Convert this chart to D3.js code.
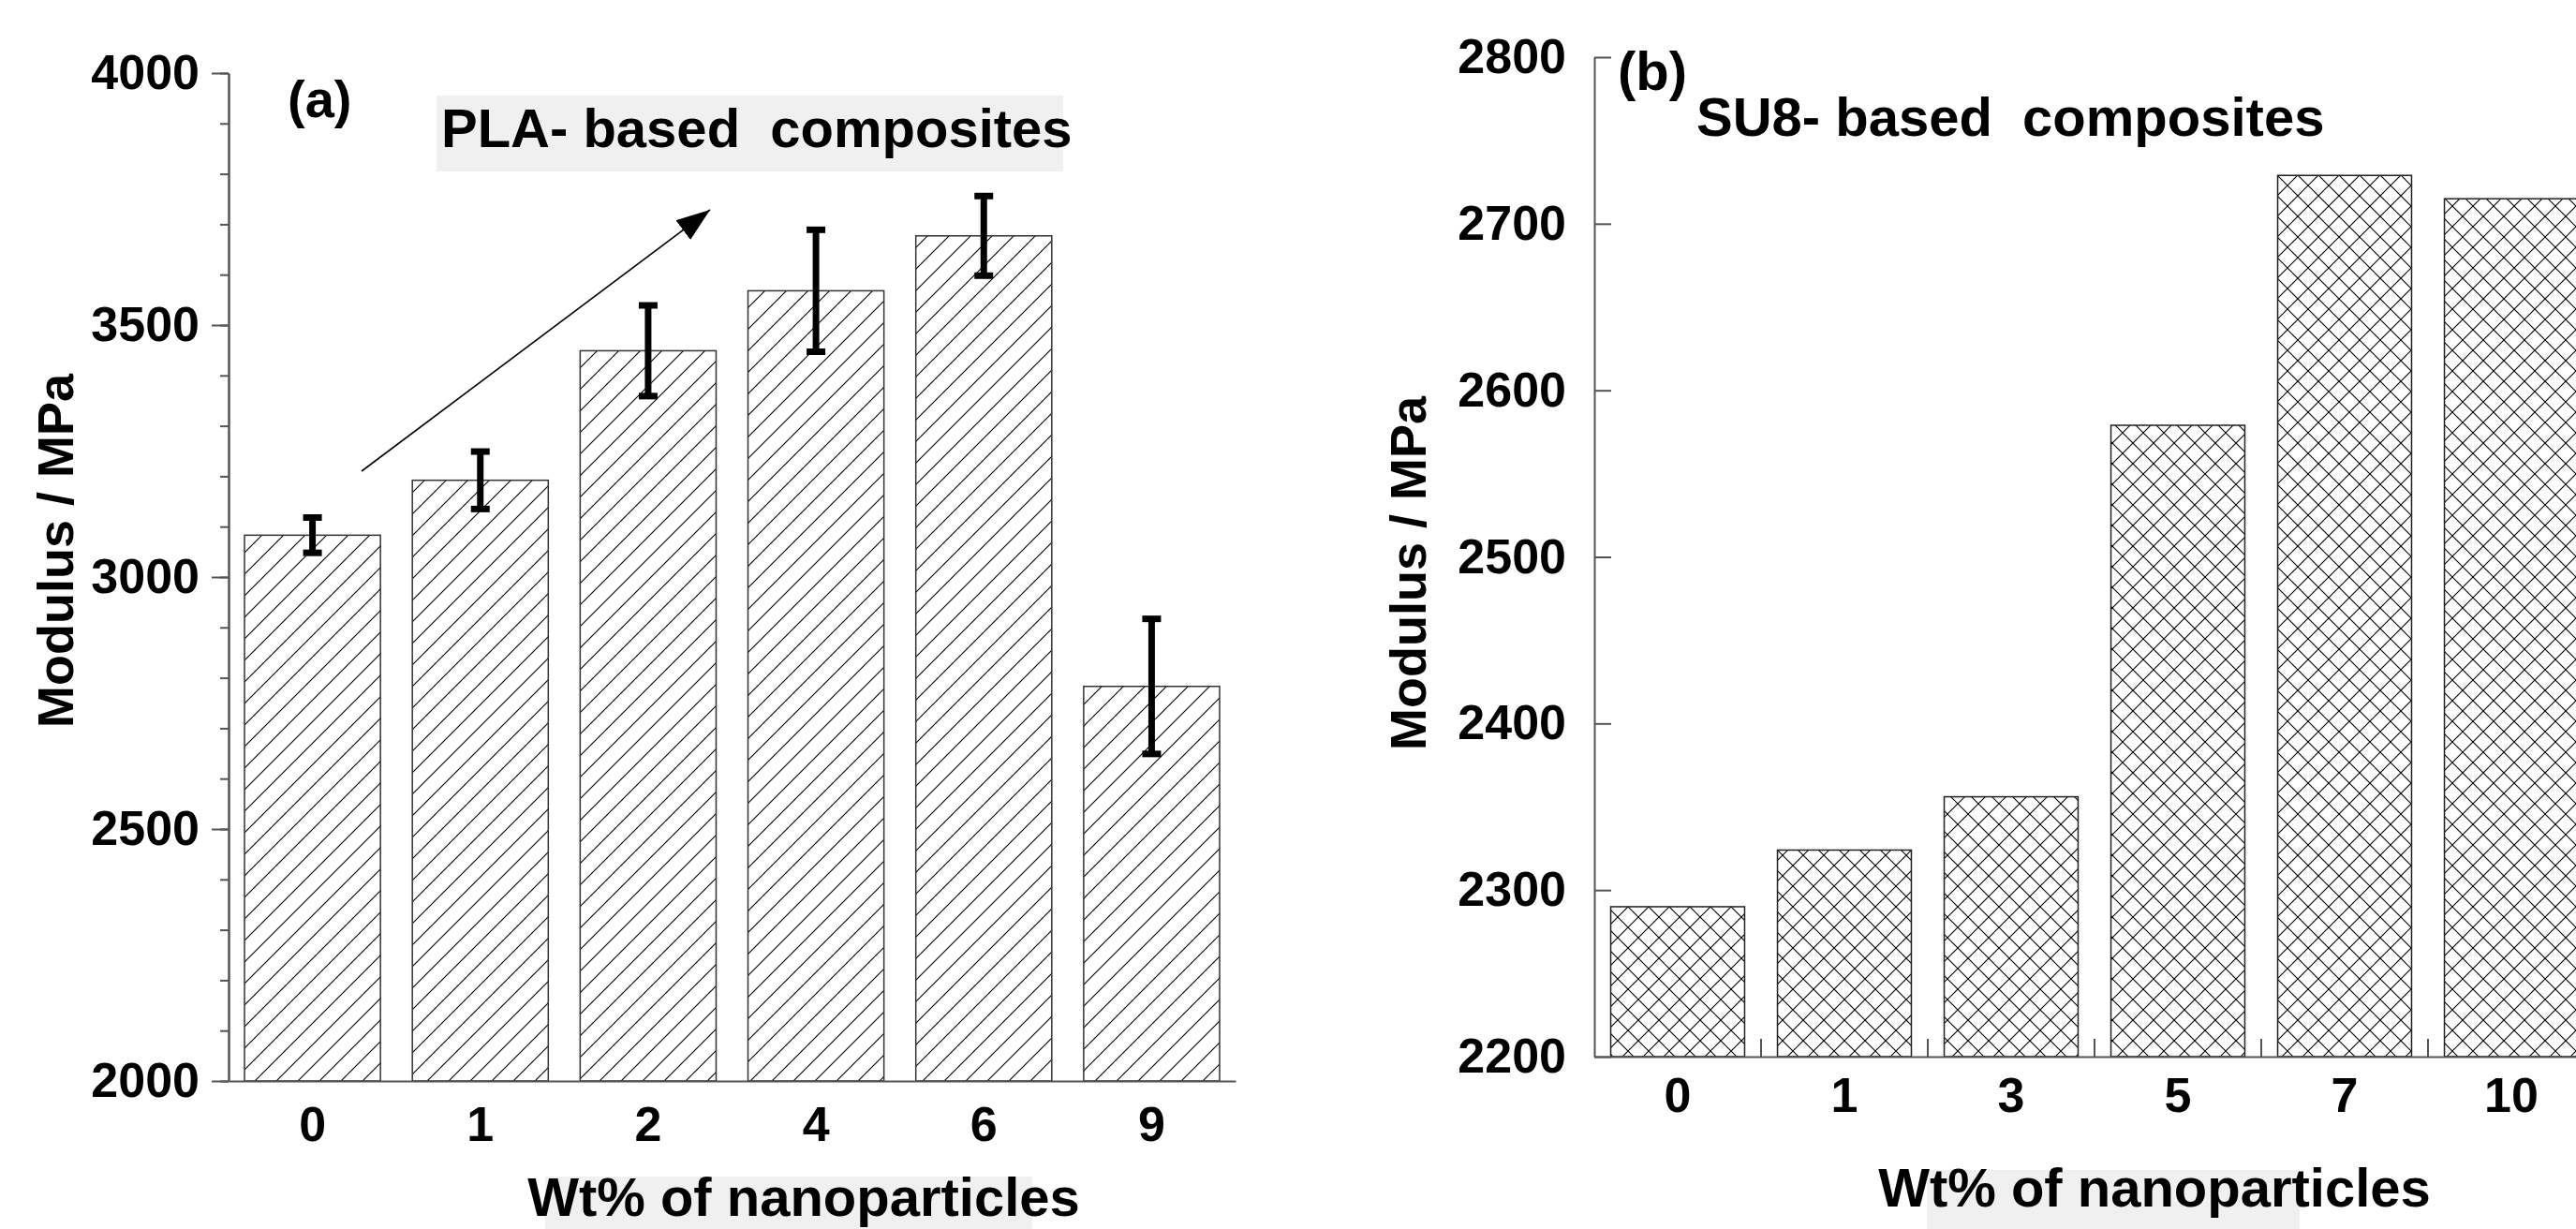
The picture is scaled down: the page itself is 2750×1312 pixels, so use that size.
<!DOCTYPE html>
<html><head><meta charset="utf-8">
<script src="https://cdn.jsdelivr.net/npm/d3@7"></script>
<style>
html,body{margin:0;padding:0;background:#fff;}
svg{display:block;}
text{font-family:"Liberation Sans",Arial,Helvetica,sans-serif;font-weight:bold;fill:#000;}
</style></head>
<body>
<svg id="chart" width="2750" height="1312"></svg>
<script>
// ---- data ----
const plaCategories = ["0","1","2","4","6","9"];
const plaModulus = [3083, 3192, 3449, 3568, 3677, 2783];
const plaError = [35, 57, 90, 121, 79, 134];
const plaTicks = [2000, 2500, 3000, 3500, 4000];

const su8Categories = ["0","1","3","5","7","10"];
const su8Modulus = [2290, 2324, 2356, 2579, 2729, 2715];
const su8Ticks = [2200, 2300, 2400, 2500, 2600, 2700, 2800];

const yLabel = "Modulus / MPa";
const xLabel = "Wt% of nanoparticles";

// ---- drawing ----
const svg = d3.select("#chart");
const defs = svg.append("defs");
const hatch = defs.append("pattern").attr("id","hatch").attr("patternUnits","userSpaceOnUse")
  .attr("width",23).attr("height",23);
hatch.append("path").attr("d","M-3,3 L3,-3 M0,23 L23,0 M20,26 L26,20")
  .attr("stroke","#000").attr("stroke-width",1.1);
const cross = defs.append("pattern").attr("id","cross").attr("patternUnits","userSpaceOnUse")
  .attr("width",22).attr("height",22);
cross.append("path").attr("d","M-3,3 L3,-3 M0,22 L22,0 M19,25 L25,19 M-3,19 L3,25 M0,0 L22,22 M19,-3 L25,3")
  .attr("stroke","#000").attr("stroke-width",1.1);
const arrowM = defs.append("marker").attr("id","arr").attr("markerUnits","userSpaceOnUse")
  .attr("viewBox","0 0 36 26").attr("refX",36).attr("refY",13)
  .attr("markerWidth",36).attr("markerHeight",26).attr("orient","auto");
arrowM.append("path").attr("d","M0,0 L36,13 L0,26 Z").attr("fill","#000");

const axisColor = "#555";
const fmt = d3.format("d");
function styleAxis(g){
  g.selectAll(".domain").attr("stroke",axisColor).attr("stroke-width",2);
  g.selectAll(".tick line").attr("stroke",axisColor).attr("stroke-width",2);
  g.selectAll("text").attr("font-size",52).attr("font-family",null);
}

// ===== Panel (a) =====
const xL = d3.scaleBand().domain(plaCategories).range([244, 1319]).paddingInner(0.19).paddingOuter(0.095);
const yL = d3.scaleLinear().domain([2000, 4000]).range([1154, 78]);

// title background + title
svg.append("rect").attr("x",466).attr("y",102).attr("width",669).attr("height",81).attr("fill","#f0f0f0");
svg.append("text").attr("x",471).attr("y",157).attr("font-size",58).style("white-space","pre")
  .text("PLA- based  composites");
svg.append("text").attr("x",307).attr("y",125).attr("font-size",56).text("(a)");

// bars
svg.append("g").selectAll("rect").data(plaCategories).join("rect")
  .attr("x", d => xL(d)).attr("width", xL.bandwidth())
  .attr("y", (d,i) => yL(plaModulus[i])).attr("height", (d,i) => yL(2000) - yL(plaModulus[i]))
  .attr("fill","url(#hatch)").attr("stroke","#333").attr("stroke-width",1.5);

// error bars
const eg = svg.append("g");
plaCategories.forEach((c,i) => {
  const cx = xL(c) + xL.bandwidth()/2;
  const y1 = yL(plaModulus[i] + plaError[i]), y2 = yL(plaModulus[i] - plaError[i]);
  eg.append("line").attr("x1",cx).attr("x2",cx).attr("y1",y1).attr("y2",y2).attr("stroke","#000").attr("stroke-width",7);
  [y1,y2].forEach(y => eg.append("line").attr("x1",cx-10).attr("x2",cx+10).attr("y1",y).attr("y2",y)
    .attr("stroke","#000").attr("stroke-width",7));
});

// trend arrow (from near bar "0" to above bar "2")
svg.append("line").attr("x1",386).attr("y1",503).attr("x2",758).attr("y2",224)
  .attr("stroke","#000").attr("stroke-width",1.6).attr("marker-end","url(#arr)");

// axes
const yLMinor = svg.append("g").attr("transform","translate(244,0)")
  .call(d3.axisLeft(yL).tickValues(d3.range(2000, 4001, 100)).tickSize(9).tickFormat("").tickSizeOuter(0));
styleAxis(yLMinor);
const yLAxis = svg.append("g").attr("transform","translate(244,0)")
  .call(d3.axisLeft(yL).tickValues(plaTicks).tickFormat(fmt).tickSize(18).tickPadding(13).tickSizeOuter(0));
styleAxis(yLAxis);
const xLAxis = svg.append("g").attr("transform","translate(0,1154)")
  .call(d3.axisBottom(xL).tickSize(0).tickPadding(27).tickSizeOuter(0));
styleAxis(xLAxis);

// axis labels
svg.append("rect").attr("x",582).attr("y",1256).attr("width",520).attr("height",56).attr("fill","#f0f0f0");
svg.append("text").attr("x",858).attr("y",1298).attr("text-anchor","middle").attr("font-size",58).text(xLabel);
svg.append("text").attr("transform","translate(78,588) rotate(-90)").attr("text-anchor","middle")
  .attr("font-size",54).text(yLabel);

// ===== Panel (b) =====
const xR = d3.scaleBand().domain(su8Categories).range([1702, 2770]).paddingInner(0.197).paddingOuter(0.0985);
const yR = d3.scaleLinear().domain([2200, 2800]).range([1128, 61]);

svg.append("g").selectAll("rect").data(su8Categories).join("rect")
  .attr("x", d => xR(d)).attr("width", xR.bandwidth())
  .attr("y", (d,i) => yR(su8Modulus[i])).attr("height", (d,i) => yR(2200) - yR(su8Modulus[i]))
  .attr("fill","url(#cross)").attr("stroke","#222").attr("stroke-width",1.5);

const yRAxis = svg.append("g").attr("transform","translate(1702,0)")
  .call(d3.axisLeft(yR).tickValues(su8Ticks).tickFormat(fmt).tickSize(-18).tickPadding(30).tickSizeOuter(0));
styleAxis(yRAxis);
const xRAxis = svg.append("g").attr("transform","translate(0,1128)")
  .call(d3.axisBottom(xR).tickSize(0).tickPadding(22).tickSizeOuter(0));
styleAxis(xRAxis);
// inward ticks at band boundaries
const bTicks = d3.range(1, su8Categories.length).map(i => xR.range()[0] + i * xR.step());
svg.append("g").selectAll("line").data(bTicks).join("line")
  .attr("x1", d => d).attr("x2", d => d).attr("y1", yR(2200)).attr("y2", yR(2200) - 19)
  .attr("stroke",axisColor).attr("stroke-width",2);

svg.append("text").attr("x",1727).attr("y",96).attr("font-size",58).text("(b)");
svg.append("text").attr("x",1811).attr("y",145).attr("font-size",58).style("white-space","pre")
  .text("SU8- based  composites");

svg.append("rect").attr("x",2057).attr("y",1249).attr("width",398).attr("height",63).attr("fill","#f0f0f0");
svg.append("text").attr("x",2300).attr("y",1288).attr("text-anchor","middle").attr("font-size",58).text(xLabel);
svg.append("text").attr("transform","translate(1522,612) rotate(-90)").attr("text-anchor","middle")
  .attr("font-size",54).text(yLabel);
</script>
</body></html>
